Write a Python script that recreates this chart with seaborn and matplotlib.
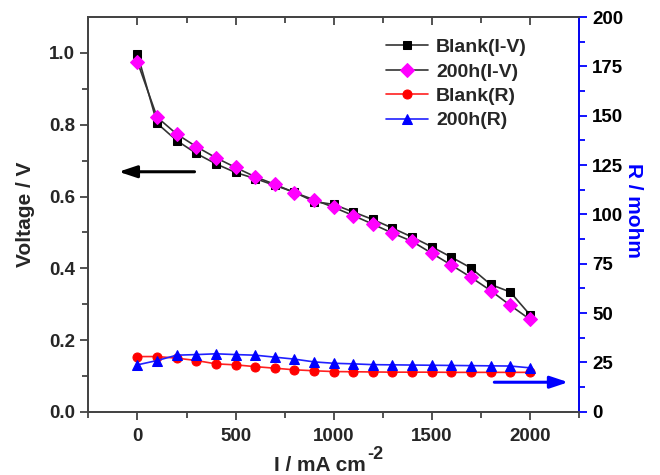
import numpy as np
import pandas as pd
import matplotlib
matplotlib.use("Agg")
import matplotlib.pyplot as plt
import seaborn as sns

current = [0, 100, 200, 300, 400, 500, 600, 700, 800, 900, 1000,
           1100, 1200, 1300, 1400, 1500, 1600, 1700, 1800, 1900, 2000]
blank_iv = [0.997, 0.804, 0.756, 0.720, 0.691, 0.667, 0.650, 0.631, 0.612, 0.586, 0.578,
            0.557, 0.536, 0.512, 0.487, 0.460, 0.431, 0.401, 0.355, 0.334, 0.271]
h200_iv = [0.975, 0.821, 0.774, 0.739, 0.708, 0.681, 0.655, 0.634, 0.611, 0.591, 0.570,
           0.547, 0.523, 0.498, 0.475, 0.442, 0.409, 0.375, 0.338, 0.297, 0.258]
blank_r = [28.0, 28.0, 27.2, 26.0, 24.3, 23.8, 22.9, 22.1, 21.3, 20.8, 20.4,
           20.3, 20.2, 20.1, 20.1, 20.1, 20.0, 20.0, 20.0, 20.0, 20.0]
h200_r = [23.8, 26.0, 28.7, 29.0, 29.4, 29.0, 28.7, 27.7, 26.7, 25.3, 24.6,
          24.3, 23.9, 23.8, 23.7, 23.6, 23.5, 23.4, 23.3, 23.2, 22.3]
labels = ["Blank(I-V)", "200h(I-V)", "Blank(R)", "200h(R)"]

sns.set_theme(style="white")
plt.rcParams['font.family'] = ['Liberation Sans', 'DejaVu Sans']
plt.rcParams['font.weight'] = 'bold'

df = pd.DataFrame({"I": current, "bv": blank_iv, "hv": h200_iv, "br": blank_r, "hr": h200_r})

fig = plt.figure(figsize=(6.6, 4.75), dpi=100)
ax = fig.add_axes([0.134, 0.133, 0.743, 0.831])
ax2 = ax.twinx()

sns.lineplot(data=df, x="I", y="bv", ax=ax, color="#333333", lw=1.2, marker="s",
             markersize=6, markerfacecolor="black", markeredgecolor="black", label=labels[0], legend=False)
sns.lineplot(data=df, x="I", y="hv", ax=ax, color="#333333", lw=1.2, marker="D",
             markersize=7.5, markerfacecolor="#ff00ff", markeredgecolor="#ff00ff", label=labels[1], legend=False)
sns.lineplot(data=df, x="I", y="br", ax=ax2, color="#ff2020", lw=1.2, marker="o",
             markersize=6.5, markerfacecolor="#ff0000", markeredgecolor="#ff0000", label=labels[2], legend=False)
sns.lineplot(data=df, x="I", y="hr", ax=ax2, color="#2020ff", lw=1.2, marker="^",
             markersize=7, markerfacecolor="#0000ff", markeredgecolor="#0000ff", label=labels[3], legend=False)

ax.set_xlim(-250, 2250)
ax.set_ylim(0, 1.1)
ax2.set_ylim(0, 200)

ax.set_xticks([0, 500, 1000, 1500, 2000])
ax.set_xticks([250, 750, 1250, 1750, 2250, -250], minor=True)
ax.set_yticks([0.0, 0.2, 0.4, 0.6, 0.8, 1.0])
ax.set_yticklabels(["0.0", "0.2", "0.4", "0.6", "0.8", "1.0"])
ax.set_yticks([0.1, 0.3, 0.5, 0.7, 0.9], minor=True)
ax2.set_yticks(list(range(0, 201, 25)))
ax2.set_yticks([12.5 + 25 * i for i in range(8)], minor=True)

for a in (ax, ax2):
    for s in a.spines.values():
        s.set_linewidth(1.3)
        s.set_color("#444444")
ax2.spines['right'].set_color("#0000ff")

ax.tick_params(axis='x', which='both', direction='out', top=True, labelsize=13.5,
               color="#444444", width=1.3, pad=6)
ax.tick_params(axis='x', which='major', length=6)
ax.tick_params(axis='x', which='minor', length=4)
ax.tick_params(axis='y', which='both', direction='out', left=True, labelsize=13.5,
               color="#444444", width=1.3)
ax.tick_params(axis='y', which='major', length=6)
ax.tick_params(axis='y', which='minor', length=4)
ax2.tick_params(axis='y', which='both', direction='out', right=True, labelsize=13.5,
                color="#0000ff", width=1.3, labelcolor="black")
ax2.tick_params(axis='y', which='major', length=6)
ax2.tick_params(axis='y', which='minor', length=4)
ax.xaxis.set_ticks_position('both')
ax.tick_params(axis='x', which='both', top=True, labeltop=False)
for t in ax.xaxis.get_major_ticks() + ax.xaxis.get_minor_ticks():
    t.tick2line.set_marker(matplotlib.markers.TICKDOWN)
for lab in ax.get_xticklabels() + ax.get_yticklabels() + ax2.get_yticklabels():
    lab.set_fontweight('bold')

# axis labels
ax.set_xlabel("")
ax2.set_ylabel("")
fig.text(366 / 660, 1 - 471 / 475, "I / mA cm", ha="right", va="baseline",
         fontsize=15, fontweight="bold")
fig.text(367 / 660, 1 - 459 / 475, "-2", ha="left", va="baseline",
         fontsize=13, fontweight="bold")
ax.set_ylabel("Voltage / V", fontsize=15, fontweight='bold', labelpad=10)
fig.text(633 / 660, 1 - 210 / 475, "R / mohm", rotation=-90, ha="center", va="center",
         fontsize=15, fontweight="bold", color="#0000ff")

ax.annotate("", xy=(-110, 0.669), xytext=(305, 0.669),
            arrowprops=dict(arrowstyle="-|>,head_length=0.9,head_width=0.3", color="black", lw=2.2))
ax2.annotate("", xy=(2210, 15.0), xytext=(1805, 15.0),
             arrowprops=dict(arrowstyle="-|>,head_length=0.9,head_width=0.3", color="#0000ff", lw=2.2))

h1, l1 = ax.get_legend_handles_labels()
h2, l2 = ax2.get_legend_handles_labels()
leg = ax2.legend(h1 + h2, l1 + l2, loc="upper right", bbox_to_anchor=(0.93, 0.99), frameon=False,
                 prop={'size': 14, 'weight': 'bold'}, handlelength=2.2, handletextpad=0.4,
                 labelspacing=0.35)

fig.savefig("out.png", dpi=100)
